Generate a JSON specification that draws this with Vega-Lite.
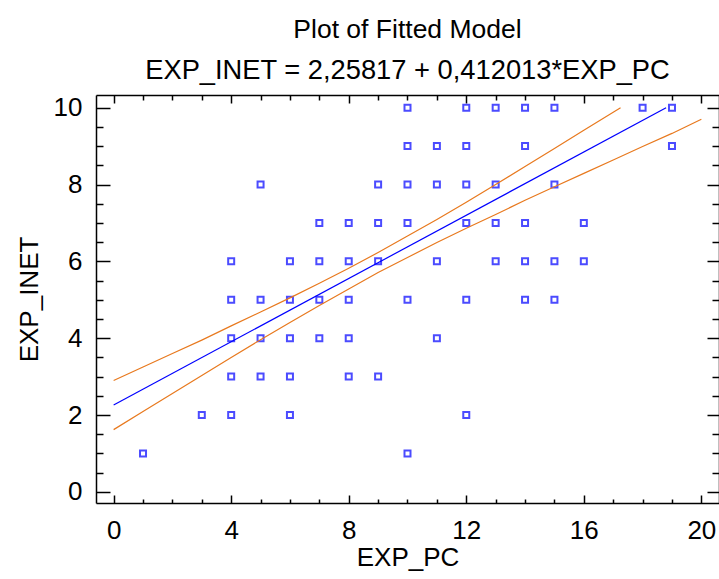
{
  "$schema": "https://vega.github.io/schema/vega-lite/v6.json",
  "autosize": "none",
  "width": 623,
  "height": 408,
  "padding": {"left": 96, "top": 95, "right": 0, "bottom": 76},
  "background": "white",
  "config": {
    "view": {"stroke": null},
    "font": "Liberation Sans",
    "axis": {"grid": false, "domainColor": "black", "tickColor": "black", "domainWidth": 1.5, "tickWidth": 1.5, "labelColor": "black", "titleColor": "black", "labelFont": "Liberation Sans", "titleFont": "Liberation Sans", "labelFontSize": 26, "titleFontSize": 26, "titleFontWeight": "normal"}
  },
  "title": {
    "text": "Plot of Fitted Model",
    "subtitle": "EXP_INET = 2,25817 + 0,412013*EXP_PC",
    "font": "Liberation Sans",
    "subtitleFont": "Liberation Sans",
    "fontSize": 26.5,
    "subtitleFontSize": 27.3,
    "fontWeight": "normal",
    "color": "black",
    "subtitleColor": "black",
    "anchor": "middle",
    "frame": "group",
    "offset": 10,
    "subtitlePadding": 13
  },
  "datasets": {
    "obs": [
      {"EXP_PC": 10, "EXP_INET": 10}, {"EXP_PC": 12, "EXP_INET": 10}, {"EXP_PC": 13, "EXP_INET": 10}, {"EXP_PC": 14, "EXP_INET": 10}, {"EXP_PC": 15, "EXP_INET": 10}, {"EXP_PC": 18, "EXP_INET": 10}, {"EXP_PC": 19, "EXP_INET": 10},
      {"EXP_PC": 10, "EXP_INET": 9}, {"EXP_PC": 11, "EXP_INET": 9}, {"EXP_PC": 12, "EXP_INET": 9}, {"EXP_PC": 14, "EXP_INET": 9}, {"EXP_PC": 19, "EXP_INET": 9},
      {"EXP_PC": 5, "EXP_INET": 8}, {"EXP_PC": 9, "EXP_INET": 8}, {"EXP_PC": 10, "EXP_INET": 8}, {"EXP_PC": 11, "EXP_INET": 8}, {"EXP_PC": 12, "EXP_INET": 8}, {"EXP_PC": 13, "EXP_INET": 8}, {"EXP_PC": 15, "EXP_INET": 8},
      {"EXP_PC": 7, "EXP_INET": 7}, {"EXP_PC": 8, "EXP_INET": 7}, {"EXP_PC": 9, "EXP_INET": 7}, {"EXP_PC": 10, "EXP_INET": 7}, {"EXP_PC": 12, "EXP_INET": 7}, {"EXP_PC": 13, "EXP_INET": 7}, {"EXP_PC": 14, "EXP_INET": 7}, {"EXP_PC": 16, "EXP_INET": 7},
      {"EXP_PC": 4, "EXP_INET": 6}, {"EXP_PC": 6, "EXP_INET": 6}, {"EXP_PC": 7, "EXP_INET": 6}, {"EXP_PC": 8, "EXP_INET": 6}, {"EXP_PC": 9, "EXP_INET": 6}, {"EXP_PC": 11, "EXP_INET": 6}, {"EXP_PC": 13, "EXP_INET": 6}, {"EXP_PC": 14, "EXP_INET": 6}, {"EXP_PC": 15, "EXP_INET": 6}, {"EXP_PC": 16, "EXP_INET": 6},
      {"EXP_PC": 4, "EXP_INET": 5}, {"EXP_PC": 5, "EXP_INET": 5}, {"EXP_PC": 6, "EXP_INET": 5}, {"EXP_PC": 7, "EXP_INET": 5}, {"EXP_PC": 8, "EXP_INET": 5}, {"EXP_PC": 10, "EXP_INET": 5}, {"EXP_PC": 12, "EXP_INET": 5}, {"EXP_PC": 14, "EXP_INET": 5}, {"EXP_PC": 15, "EXP_INET": 5},
      {"EXP_PC": 4, "EXP_INET": 4}, {"EXP_PC": 5, "EXP_INET": 4}, {"EXP_PC": 6, "EXP_INET": 4}, {"EXP_PC": 7, "EXP_INET": 4}, {"EXP_PC": 8, "EXP_INET": 4}, {"EXP_PC": 11, "EXP_INET": 4},
      {"EXP_PC": 4, "EXP_INET": 3}, {"EXP_PC": 5, "EXP_INET": 3}, {"EXP_PC": 6, "EXP_INET": 3}, {"EXP_PC": 8, "EXP_INET": 3}, {"EXP_PC": 9, "EXP_INET": 3},
      {"EXP_PC": 3, "EXP_INET": 2}, {"EXP_PC": 4, "EXP_INET": 2}, {"EXP_PC": 6, "EXP_INET": 2}, {"EXP_PC": 12, "EXP_INET": 2},
      {"EXP_PC": 1, "EXP_INET": 1}, {"EXP_PC": 10, "EXP_INET": 1}
    ],
    "fit": [
      {"EXP_PC": 0, "EXP_INET": 2.26}, {"EXP_PC": 18.8, "EXP_INET": 10.0}
    ],
    "upper": [
      {"EXP_PC": 0, "EXP_INET": 2.90}, {"EXP_PC": 1, "EXP_INET": 3.25}, {"EXP_PC": 2, "EXP_INET": 3.60}, {"EXP_PC": 3, "EXP_INET": 3.95}, {"EXP_PC": 4, "EXP_INET": 4.32}, {"EXP_PC": 5, "EXP_INET": 4.68}, {"EXP_PC": 6, "EXP_INET": 5.05}, {"EXP_PC": 7, "EXP_INET": 5.43}, {"EXP_PC": 8, "EXP_INET": 5.82}, {"EXP_PC": 9, "EXP_INET": 6.23}, {"EXP_PC": 10, "EXP_INET": 6.66}, {"EXP_PC": 11, "EXP_INET": 7.09}, {"EXP_PC": 12, "EXP_INET": 7.54}, {"EXP_PC": 13, "EXP_INET": 8.00}, {"EXP_PC": 14, "EXP_INET": 8.47}, {"EXP_PC": 15, "EXP_INET": 8.94}, {"EXP_PC": 16, "EXP_INET": 9.41}, {"EXP_PC": 17, "EXP_INET": 9.88}, {"EXP_PC": 17.25, "EXP_INET": 10.0}
    ],
    "lower": [
      {"EXP_PC": 0, "EXP_INET": 1.62}, {"EXP_PC": 1, "EXP_INET": 2.09}, {"EXP_PC": 2, "EXP_INET": 2.56}, {"EXP_PC": 3, "EXP_INET": 3.03}, {"EXP_PC": 4, "EXP_INET": 3.50}, {"EXP_PC": 5, "EXP_INET": 3.96}, {"EXP_PC": 6, "EXP_INET": 4.41}, {"EXP_PC": 7, "EXP_INET": 4.85}, {"EXP_PC": 8, "EXP_INET": 5.28}, {"EXP_PC": 9, "EXP_INET": 5.71}, {"EXP_PC": 10, "EXP_INET": 6.10}, {"EXP_PC": 11, "EXP_INET": 6.49}, {"EXP_PC": 12, "EXP_INET": 6.86}, {"EXP_PC": 13, "EXP_INET": 7.22}, {"EXP_PC": 14, "EXP_INET": 7.59}, {"EXP_PC": 15, "EXP_INET": 7.94}, {"EXP_PC": 16, "EXP_INET": 8.29}, {"EXP_PC": 17, "EXP_INET": 8.64}, {"EXP_PC": 18, "EXP_INET": 8.99}, {"EXP_PC": 19, "EXP_INET": 9.33}, {"EXP_PC": 20, "EXP_INET": 9.70}
    ]
  },
  "resolve": {"axis": {"x": "independent", "y": "independent"}},
  "layer": [
    {
      "data": {"name": "obs"},
      "mark": {"type": "square", "filled": false, "size": 36, "stroke": "#0000ff", "strokeWidth": 2, "clip": true},
      "encoding": {
        "x": {"field": "EXP_PC", "type": "quantitative", "scale": {"domain": [-0.6, 20.6], "nice": false, "zero": false},
          "axis": {"orient": "bottom", "values": [0, 4, 8, 12, 16, 20], "tickSize": -8, "labelPadding": 22, "title": "EXP_PC", "titlePadding": 1, "domain": true}},
        "y": {"field": "EXP_INET", "type": "quantitative", "scale": {"domain": [-0.29, 10.33], "nice": false, "zero": false},
          "axis": {"orient": "left", "values": [0, 2, 4, 6, 8, 10], "tickSize": -14, "labelPadding": 28, "title": "EXP_INET", "titlePadding": 11, "domain": true}}
      }
    },
    {
      "data": {"name": "fit"},
      "mark": {"type": "line", "color": "#0000ff", "strokeWidth": 1.2, "clip": true},
      "encoding": {
        "x": {"field": "EXP_PC", "type": "quantitative",
          "axis": {"orient": "bottom", "values": [1, 2, 3, 5, 6, 7, 9, 10, 11, 13, 14, 15, 17, 18, 19], "tickSize": -4, "labels": false, "title": null, "domain": false}},
        "y": {"field": "EXP_INET", "type": "quantitative",
          "axis": {"orient": "left", "values": [0.5, 1, 1.5, 2.5, 3, 3.5, 4.5, 5, 5.5, 6.5, 7, 7.5, 8.5, 9, 9.5], "tickSize": -7, "labels": false, "title": null, "domain": false}}
      }
    },
    {
      "data": {"name": "upper"},
      "mark": {"type": "line", "color": "#e8791e", "strokeWidth": 1.2, "clip": true},
      "encoding": {
        "x": {"field": "EXP_PC", "type": "quantitative",
          "axis": {"orient": "top", "values": [0, 4, 8, 12, 16, 20], "tickSize": -8, "labels": false, "title": null, "domain": true}},
        "y": {"field": "EXP_INET", "type": "quantitative",
          "axis": {"orient": "right", "values": [0, 2, 4, 6, 8, 10], "tickSize": -12, "labels": false, "title": null, "domain": true}}
      }
    },
    {
      "data": {"name": "lower"},
      "mark": {"type": "line", "color": "#e8791e", "strokeWidth": 1.2, "clip": true},
      "encoding": {
        "x": {"field": "EXP_PC", "type": "quantitative",
          "axis": {"orient": "top", "values": [1, 2, 3, 5, 6, 7, 9, 10, 11, 13, 14, 15, 17, 18, 19], "tickSize": -5, "labels": false, "title": null, "domain": false}},
        "y": {"field": "EXP_INET", "type": "quantitative",
          "axis": {"orient": "right", "values": [0.5, 1, 1.5, 2.5, 3, 3.5, 4.5, 5, 5.5, 6.5, 7, 7.5, 8.5, 9, 9.5], "tickSize": -7, "labels": false, "title": null, "domain": false}}
      }
    }
  ]
}
